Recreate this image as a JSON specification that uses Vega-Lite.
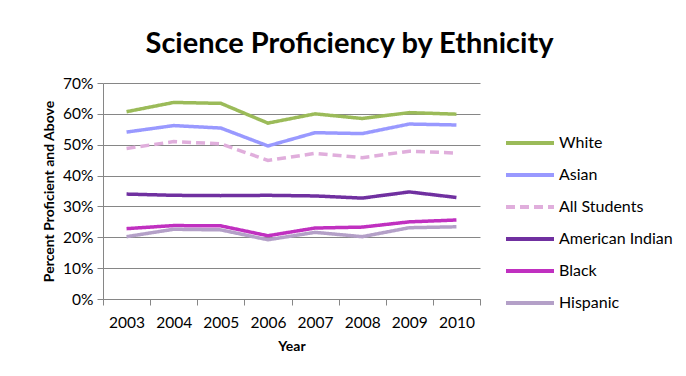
{
  "$schema": "https://vega.github.io/schema/vega-lite/v6.json",
  "width": 377,
  "height": 216,
  "autosize": {"type": "none"},
  "padding": {"left": 103, "top": 83, "right": 206, "bottom": 77},
  "background": "white",
  "title": {
    "text": "Science Proficiency by Ethnicity",
    "fontSize": 29,
    "fontWeight": "bold",
    "font": "Lato",
    "color": "#000000",
    "anchor": "middle",
    "frame": "group",
    "dx": 58,
    "offset": 17
  },
  "config": {
    "view": {"stroke": null},
    "font": "Lato"
  },
  "data": {
    "values": [
      {"Year": "2003", "Group": "White", "Pct": 0.607},
      {"Year": "2004", "Group": "White", "Pct": 0.637},
      {"Year": "2005", "Group": "White", "Pct": 0.634},
      {"Year": "2006", "Group": "White", "Pct": 0.570},
      {"Year": "2007", "Group": "White", "Pct": 0.600},
      {"Year": "2008", "Group": "White", "Pct": 0.585},
      {"Year": "2009", "Group": "White", "Pct": 0.604},
      {"Year": "2010", "Group": "White", "Pct": 0.599},
      {"Year": "2003", "Group": "Asian", "Pct": 0.541},
      {"Year": "2004", "Group": "Asian", "Pct": 0.562},
      {"Year": "2005", "Group": "Asian", "Pct": 0.554},
      {"Year": "2006", "Group": "Asian", "Pct": 0.496},
      {"Year": "2007", "Group": "Asian", "Pct": 0.539},
      {"Year": "2008", "Group": "Asian", "Pct": 0.536},
      {"Year": "2009", "Group": "Asian", "Pct": 0.567},
      {"Year": "2010", "Group": "Asian", "Pct": 0.564},
      {"Year": "2003", "Group": "All Students", "Pct": 0.488},
      {"Year": "2004", "Group": "All Students", "Pct": 0.510},
      {"Year": "2005", "Group": "All Students", "Pct": 0.503},
      {"Year": "2006", "Group": "All Students", "Pct": 0.449},
      {"Year": "2007", "Group": "All Students", "Pct": 0.472},
      {"Year": "2008", "Group": "All Students", "Pct": 0.458},
      {"Year": "2009", "Group": "All Students", "Pct": 0.479},
      {"Year": "2010", "Group": "All Students", "Pct": 0.473},
      {"Year": "2003", "Group": "American Indian", "Pct": 0.340},
      {"Year": "2004", "Group": "American Indian", "Pct": 0.336},
      {"Year": "2005", "Group": "American Indian", "Pct": 0.335},
      {"Year": "2006", "Group": "American Indian", "Pct": 0.336},
      {"Year": "2007", "Group": "American Indian", "Pct": 0.334},
      {"Year": "2008", "Group": "American Indian", "Pct": 0.327},
      {"Year": "2009", "Group": "American Indian", "Pct": 0.347},
      {"Year": "2010", "Group": "American Indian", "Pct": 0.329},
      {"Year": "2003", "Group": "Black", "Pct": 0.228},
      {"Year": "2004", "Group": "Black", "Pct": 0.238},
      {"Year": "2005", "Group": "Black", "Pct": 0.237},
      {"Year": "2006", "Group": "Black", "Pct": 0.205},
      {"Year": "2007", "Group": "Black", "Pct": 0.230},
      {"Year": "2008", "Group": "Black", "Pct": 0.233},
      {"Year": "2009", "Group": "Black", "Pct": 0.250},
      {"Year": "2010", "Group": "Black", "Pct": 0.256},
      {"Year": "2003", "Group": "Hispanic", "Pct": 0.202},
      {"Year": "2004", "Group": "Hispanic", "Pct": 0.226},
      {"Year": "2005", "Group": "Hispanic", "Pct": 0.224},
      {"Year": "2006", "Group": "Hispanic", "Pct": 0.192},
      {"Year": "2007", "Group": "Hispanic", "Pct": 0.216},
      {"Year": "2008", "Group": "Hispanic", "Pct": 0.202},
      {"Year": "2009", "Group": "Hispanic", "Pct": 0.231},
      {"Year": "2010", "Group": "Hispanic", "Pct": 0.234}
    ]
  },
  "mark": {"type": "line", "strokeWidth": 3.5},
  "encoding": {
    "x": {
      "field": "Year",
      "type": "ordinal",
      "bandPosition": 0.5,
      "scale": {"type": "band", "paddingInner": 0, "paddingOuter": 0},
      "axis": {
        "title": "Year",
        "titleFontSize": 14,
        "titleFontWeight": "bold",
        "titleColor": "#000000",
        "titlePadding": 9,
        "labelAngle": 0,
        "labelFontSize": 15.5,
        "labelColor": "#000000",
        "labelPadding": 10,
        "tickBand": "extent",
        "tickSize": 6,
        "tickColor": "#868686",
        "domainColor": "#868686",
        "grid": false
      }
    },
    "y": {
      "field": "Pct",
      "type": "quantitative",
      "scale": {"domain": [0, 0.7], "nice": false},
      "axis": {
        "title": "Percent Proficient and Above",
        "titleFontSize": 14,
        "titleFontWeight": "bold",
        "titleColor": "#000000",
        "titlePadding": 6,
        "format": ".0%",
        "values": [0, 0.1, 0.2, 0.3, 0.4, 0.5, 0.6, 0.7],
        "labelFontSize": 15.5,
        "labelColor": "#000000",
        "labelPadding": 4,
        "tickSize": 6,
        "tickColor": "#868686",
        "domainColor": "#868686",
        "gridColor": "#868686",
        "gridWidth": 1
      }
    },
    "color": {
      "field": "Group",
      "type": "nominal",
      "scale": {
        "domain": ["White", "Asian", "All Students", "American Indian", "Black", "Hispanic"],
        "range": ["#9BBB59", "#9999FF", "#E0AEDC", "#7030A0", "#C030C0", "#B4A0C8"]
      },
      "legend": {
        "title": null,
        "orient": "none",
        "legendX": 417,
        "legendY": 50,
        "symbolType": "M-3,0H3",
        "symbolSize": 256,
        "symbolStrokeWidth": 4,
        "labelFontSize": 16,
        "labelColor": "#000000",
        "labelOffset": 19,
        "rowPadding": 14
      }
    },
    "strokeDash": {
      "field": "Group",
      "type": "nominal",
      "scale": {
        "domain": ["White", "Asian", "All Students", "American Indian", "Black", "Hispanic"],
        "range": [[1, 0], [1, 0], [9, 5], [1, 0], [1, 0], [1, 0]]
      },
      "legend": null
    }
  }
}
